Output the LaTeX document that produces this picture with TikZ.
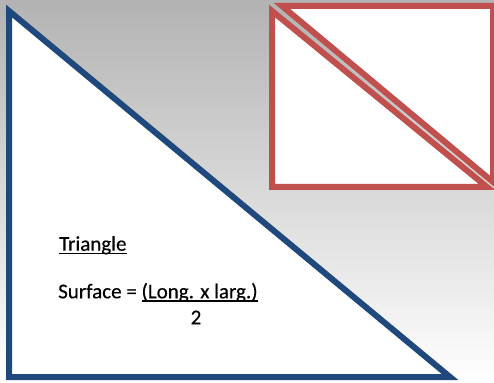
\documentclass[tikz,border=0pt]{standalone}
\usepackage{fontspec}
\setmainfont{Carlito}[FakeBold=0.4]
\usepackage{xcolor}

\definecolor{triblue}{RGB}{31,73,125}
\definecolor{trired}{RGB}{192,80,77}

\newcommand{\lined}[1]{\setbox0\hbox{#1}\rlap{\rule[-3.75pt]{\wd0}{1.6pt}}\box0}

\tikzset{
    bigtri/.style={draw=triblue,line width=6pt,fill=white},
    halftri/.style={draw=trired,line width=6pt,fill=white},
    formula/.style={inner sep=0pt,font=\fontsize{21}{25}\selectfont}
}

\begin{document}
\begin{tikzpicture}[x=1pt,y=1pt]
    \useasboundingbox (0,0) rectangle (494,382);
    \shade[top color=black!30,middle color=black!9,bottom color=white] (0,0) rectangle (494,382);

    % the big triangle
    \draw[bigtri] (9,371) -- (9,5) -- (450,5) -- cycle;

    % rectangle cut in two halves
    \draw[halftri] (272,371) -- (272,195) -- (487,195) -- cycle;
    \draw[halftri] (282,376) -- (493,376) -- (493,200) -- cycle;

    % text
    \node[formula,anchor=base west] (title) at (59,131.3) {\lined{Triangle}};
    \node[formula,anchor=base west] (surf) at (58,83.7) {Surface = \lined{(Long. x larg.)}};
    \node[formula,anchor=base] (two) at (196,57.7) {2};
\end{tikzpicture}
\end{document}
